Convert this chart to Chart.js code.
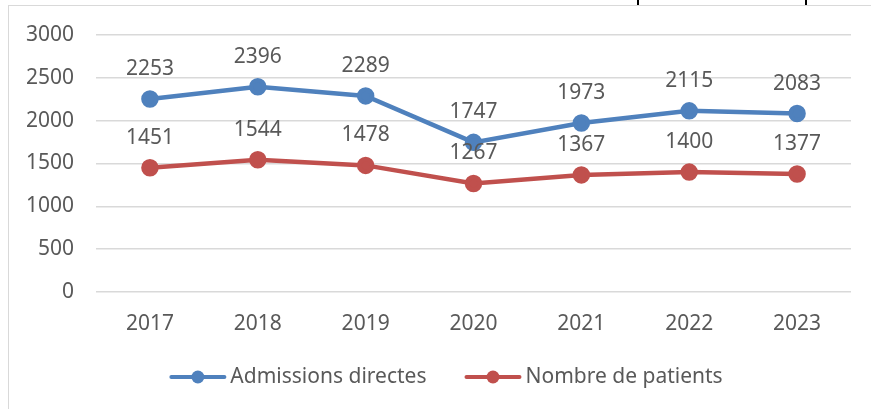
<!DOCTYPE html>
<html>
<head>
<meta charset="utf-8">
<script src="https://cdn.jsdelivr.net/npm/chart.js@4.4.0/dist/chart.umd.min.js"></script>
<style>
  html, body { margin: 0; padding: 0; background: #fff; }
  #wrap { position: relative; width: 871px; height: 409px; overflow: hidden; }
  #frame { position: absolute; left: 8px; top: 5px; width: 880px; height: 420px;
           border-left: 1px solid #d9d9d9; border-top: 1px solid #d9d9d9; }
  .tick { position: absolute; top: 0; width: 2px; height: 5px; background: #000; }
  canvas { position: absolute; left: 0; top: 0; }
</style>
</head>
<body>
<div id="wrap">
  <div id="frame"></div>
  <div class="tick" style="left:637px"></div>
  <div class="tick" style="left:805px"></div>
  <canvas id="chart" width="871" height="409"></canvas>
</div>
<script>
// données du graphique
const annees = ['2017', '2018', '2019', '2020', '2021', '2022', '2023'];
const admissions = [2253, 2396, 2289, 1747, 1973, 2115, 2083];
const patients = [1451, 1544, 1478, 1267, 1367, 1400, 1377];
const yTicks = [0, 500, 1000, 1500, 2000, 2500, 3000];

const FONT = '"Noto Sans", "Open Sans", sans-serif';
const TEXT = '#595959';
const SIZE = 21;

// étiquettes de valeurs au-dessus des points
const valueLabels = {
    id: 'valueLabels',
    afterDatasetsDraw(chart) {
        const ctx = chart.ctx;
        ctx.save();
        ctx.font = SIZE + 'px ' + FONT;
        ctx.fillStyle = TEXT;
        ctx.textAlign = 'center';
        ctx.textBaseline = 'middle';
        chart.data.datasets.forEach((ds, i) => {
            chart.getDatasetMeta(i).data.forEach((pt, j) => {
                ctx.fillText(ds.data[j], pt.x, pt.y - 30);
            });
        });
        ctx.restore();
    }
};

// légende dessinée à la main (trait + rond)
const lineLegend = {
    id: 'lineLegend',
    afterDraw(chart) {
        const ctx = chart.ctx;
        const y = 377;
        const lineW = 57, gapText = 4, gapItem = 38;
        ctx.save();
        ctx.font = SIZE + 'px ' + FONT;
        const items = chart.data.datasets.map(ds => ({
            label: ds.label, color: ds.borderColor, w: ctx.measureText(ds.label).width
        }));
        let total = items.reduce((s, it) => s + lineW + gapText + it.w, 0) + gapItem * (items.length - 1);
        let x = 446 - total / 2;
        items.forEach(it => {
            ctx.strokeStyle = it.color;
            ctx.lineWidth = 4;
            ctx.lineCap = 'round';
            ctx.beginPath();
            ctx.moveTo(x + 2, y);
            ctx.lineTo(x + lineW - 2, y);
            ctx.stroke();
            ctx.fillStyle = it.color;
            ctx.beginPath();
            ctx.arc(x + lineW / 2, y, 6.5, 0, Math.PI * 2);
            ctx.fill();
            ctx.fillStyle = TEXT;
            ctx.textAlign = 'left';
            ctx.textBaseline = 'middle';
            ctx.fillText(it.label, x + lineW + gapText, y);
            x += lineW + gapText + it.w + gapItem;
        });
        ctx.restore();
    }
};

const chart = new Chart(document.getElementById('chart'), {
    type: 'line',
    data: {
        labels: annees,
        datasets: [{
            label: 'Admissions directes',
            data: admissions,
            borderColor: '#4F81BD',
            backgroundColor: '#4F81BD',
            borderWidth: 4.5,
            pointRadius: 6.5,
            pointHoverRadius: 6.5,
            tension: 0
        }, {
            label: 'Nombre de patients',
            data: patients,
            borderColor: '#C0504D',
            backgroundColor: '#C0504D',
            borderWidth: 4.5,
            pointRadius: 6.5,
            pointHoverRadius: 6.5,
            tension: 0
        }]
    },
    options: {
        responsive: false,
        animation: false,
        layout: { padding: { left: 0, top: 35, right: 20, bottom: 0 } },
        plugins: { legend: { display: false }, tooltip: { enabled: false } },
        scales: {
            x: {
                offset: true,
                grid: { display: false, drawTicks: false },
                border: { display: false },
                ticks: { color: TEXT, font: { family: FONT, size: SIZE }, padding: 19 },
                afterFit(s) { s.height = 117; }
            },
            y: {
                min: 0,
                max: 3000,
                afterBuildTicks(s) { s.ticks = yTicks.map(v => ({ value: v })); },
                grid: { color: '#d9d9d9', lineWidth: 1.5, drawTicks: false },
                border: { display: false },
                ticks: { color: TEXT, font: { family: FONT, size: SIZE }, padding: 22,
                         callback: v => String(v) },
                afterFit(s) { s.width = 96; }
            }
        }
    },
    plugins: [valueLabels, lineLegend]
});
</script>
</body>
</html>
